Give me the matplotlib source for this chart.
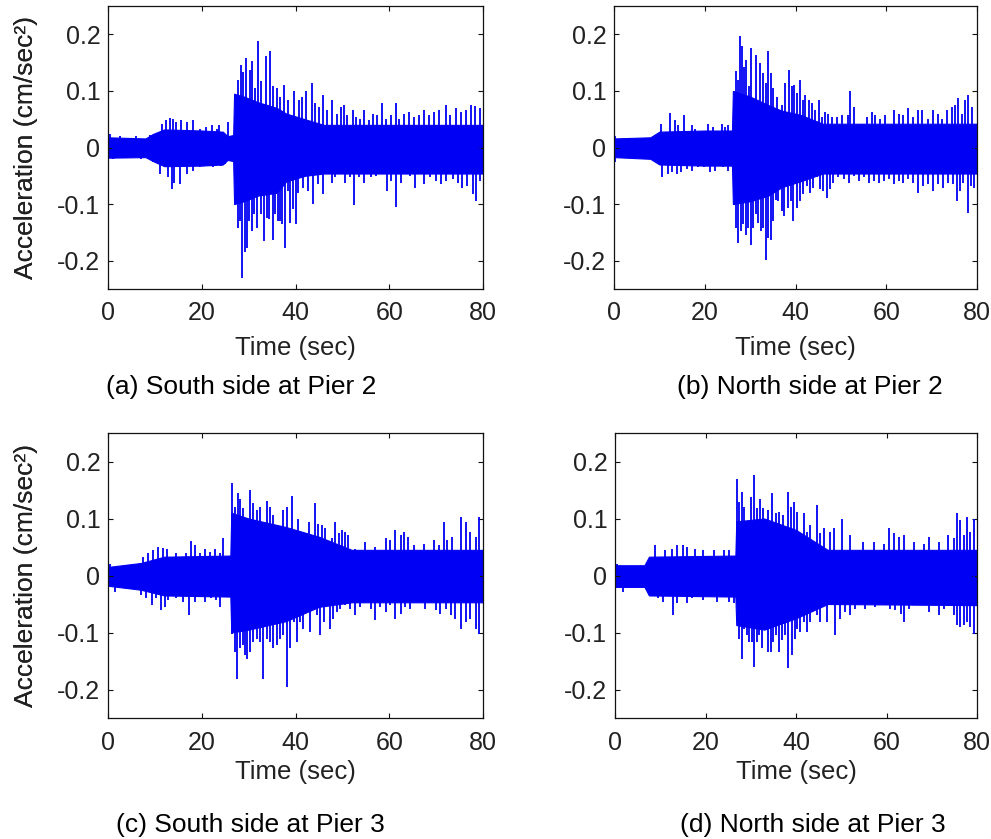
import matplotlib
matplotlib.use("Agg")
import matplotlib.pyplot as plt

plt.rcParams['font.family'] = ['Liberation Sans', 'DejaVu Sans']

# axis ticks (MATLAB style labels)
xticks = [0, 20, 40, 60, 80]
yticks = [-0.2, -0.1, 0, 0.1, 0.2]
ytick_labels = ['-0.2', '-0.1', '0', '0.1', '0.2']

captions = ['(a) South side at Pier 2', '(b) North side at Pier 2',
            '(c) South side at Pier 3', '(d) North side at Pier 3']

# ---- (a) South side at Pier 2 ----
# dense band envelope (knots)
a_core_t = [0, 8, 9.6, 12, 20, 24.5, 25.5, 26.7, 26.9, 29, 32, 36, 38, 42, 46, 80]
a_core_up = [0.018, 0.016, 0.024, 0.032, 0.03, 0.028, 0.02, 0.022, 0.095, 0.09, 0.08, 0.07, 0.06, 0.05, 0.04, 0.04]
a_core_lo = [-0.018, -0.017, -0.024, -0.033, -0.032, -0.03, -0.022, -0.024, -0.1, -0.095, -0.085, -0.08, -0.06,
             -0.05, -0.046, -0.046]
# peaks (time, accel)
a_peaks_up = [(0.5, 0.023), (2.5, 0.02), (6, 0.02), (9, 0.022), (11.5, 0.042), (12.3, 0.048), (13.3, 0.053),
              (13.8, 0.05), (14.5, 0.045), (15.5, 0.048), (16.8, 0.045), (18.1, 0.048), (19.7, 0.033),
              (21, 0.036), (22.2, 0.04), (23.2, 0.033), (23.6, 0.04), (25.6, 0.045), (27.7, 0.12),
              (28.4, 0.146), (28.9, 0.134), (29.5, 0.158), (30.2, 0.137), (30.7, 0.152), (31.3, 0.105),
              (32, 0.188), (32.7, 0.117), (33.6, 0.161), (34.6, 0.17), (35.3, 0.108), (36.1, 0.105),
              (36.6, 0.09), (37.5, 0.11), (38.3, 0.084), (39.6, 0.10), (40.7, 0.084), (41.4, 0.09),
              (42.3, 0.10), (43.5, 0.114), (44.2, 0.078), (45.1, 0.072), (45.9, 0.093), (46.7, 0.066),
              (47.8, 0.084), (48.8, 0.06), (49.6, 0.072), (50.3, 0.075), (51, 0.057), (52.3, 0.066),
              (52.9, 0.054), (53.7, 0.051), (54.7, 0.066), (55.6, 0.048), (56.5, 0.06), (57.3, 0.057),
              (58.5, 0.078), (59.4, 0.051), (60.3, 0.057), (61.4, 0.078), (62, 0.051), (63.1, 0.06),
              (64.2, 0.063), (65.2, 0.054), (66.3, 0.057), (67.4, 0.066), (68.5, 0.057), (69.6, 0.063),
              (70.7, 0.066), (72, 0.075), (73, 0.057), (74.2, 0.069), (75.3, 0.063), (76.4, 0.066),
              (77.4, 0.075), (78.3, 0.073), (79.3, 0.069)]
a_peaks_lo = [(1, -0.02), (4, -0.018), (7, -0.02), (9.5, -0.025), (11, -0.047), (12.9, -0.053), (13.6, -0.074),
              (14, -0.062), (15.4, -0.064), (16.8, -0.047), (18.2, -0.041), (19.6, -0.035), (21.8, -0.032),
              (22.5, -0.035), (24, -0.032), (25, -0.03), (27.2, -0.095), (27.7, -0.142), (28.2, -0.13),
              (28.6, -0.23), (29.2, -0.184), (29.7, -0.178), (30, -0.13), (30.7, -0.148), (31.2, -0.118),
              (31.8, -0.142), (32.6, -0.118), (33.2, -0.166), (33.9, -0.124), (34.4, -0.127), (35.2, -0.163),
              (35.7, -0.118), (36.2, -0.13), (36.6, -0.13), (37.1, -0.136), (37.8, -0.178), (38.3, -0.077),
              (38.9, -0.133), (39.5, -0.109), (40, -0.136), (40.6, -0.08), (41.5, -0.071), (42.6, -0.077),
              (43.7, -0.1), (44.8, -0.065), (45.9, -0.083), (46.6, -0.047), (47.7, -0.062), (48.4, -0.053),
              (49.1, -0.041), (49.8, -0.047), (50.6, -0.062), (51.6, -0.053), (52.5, -0.102), (53.6, -0.053),
              (54.7, -0.062), (55.4, -0.047), (56.1, -0.053), (57.1, -0.05), (58.1, -0.044), (59.6, -0.077),
              (60.4, -0.059), (61.4, -0.105), (62.4, -0.062), (63.4, -0.047), (64.5, -0.05), (65.5, -0.071),
              (66.5, -0.047), (67.5, -0.065), (68.6, -0.053), (69.9, -0.059), (71, -0.065), (72.2, -0.059),
              (73.6, -0.056), (74.6, -0.062), (75.6, -0.071), (76.6, -0.068), (77.9, -0.083), (78.4, -0.095),
              (79.3, -0.06)]

# ---- (b) North side at Pier 2 ----
b_core_t = [0, 8, 10, 20, 26, 26.2, 30, 34, 37, 41, 46, 80]
b_core_up = [0.016, 0.018, 0.028, 0.03, 0.03, 0.1, 0.09, 0.075, 0.065, 0.058, 0.042, 0.042]
b_core_lo = [-0.017, -0.02, -0.03, -0.032, -0.032, -0.1, -0.095, -0.085, -0.07, -0.06, -0.046, -0.046]
b_peaks_up = [(0.3, 0.02), (10.3, 0.042), (12.3, 0.061), (13.4, 0.048), (14.0, 0.039), (15.5, 0.057),
              (17.1, 0.039), (17.9, 0.033), (20.8, 0.042), (21.9, 0.036), (23.7, 0.042), (24.5, 0.036),
              (25.2, 0.039), (26.8, 0.135), (27.3, 0.12), (27.8, 0.197), (28.3, 0.179), (28.7, 0.143),
              (29.2, 0.155), (29.8, 0.108), (30.2, 0.176), (31.2, 0.164), (32.2, 0.149), (32.9, 0.132),
              (33.4, 0.114), (34.0, 0.17), (34.6, 0.132), (35.1, 0.105), (35.9, 0.09), (37.1, 0.075),
              (37.7, 0.114), (38.6, 0.137), (39.2, 0.108), (39.7, 0.111), (40.3, 0.096), (41.0, 0.12),
              (41.7, 0.084), (42.2, 0.093), (43.0, 0.084), (43.7, 0.078), (44.3, 0.066), (45.2, 0.084),
              (45.8, 0.054), (46.5, 0.063), (47.2, 0.06), (48.1, 0.054), (49.1, 0.054), (50.2, 0.057),
              (51.5, 0.057), (52.0, 0.099), (52.8, 0.072), (54.6, 0.042), (55.7, 0.054), (56.8, 0.063),
              (57.5, 0.057), (58.6, 0.051), (59.7, 0.057), (61.6, 0.066), (62.7, 0.06), (63.8, 0.057),
              (64.9, 0.069), (66.0, 0.054), (67.1, 0.066), (67.8, 0.066), (69.3, 0.051), (70.4, 0.066),
              (71.5, 0.06), (72.2, 0.051), (73.3, 0.066), (74.4, 0.072), (75.2, 0.075), (75.9, 0.087),
              (76.6, 0.06), (77.4, 0.084), (78.1, 0.093), (78.8, 0.072)]
b_peaks_lo = [(0.3, -0.026), (10.5, -0.053), (12.0, -0.047), (12.7, -0.044), (13.8, -0.047), (14.8, -0.044),
              (16.0, -0.038), (17.1, -0.041), (18.6, -0.035), (19.9, -0.035), (21.2, -0.044), (22.3, -0.041),
              (24.1, -0.035), (25.2, -0.041), (26.8, -0.142), (27.4, -0.169), (28.0, -0.148), (28.5, -0.136),
              (29.0, -0.154), (29.6, -0.142), (30.2, -0.172), (30.7, -0.142), (31.2, -0.118), (31.8, -0.133),
              (32.4, -0.148), (32.9, -0.142), (33.4, -0.199), (34.0, -0.16), (34.6, -0.163), (35.1, -0.13),
              (35.7, -0.092), (36.2, -0.095), (37.0, -0.112), (37.5, -0.121), (38.3, -0.107), (39.0, -0.095),
              (39.5, -0.13), (40.3, -0.107), (41.0, -0.095), (41.7, -0.083), (42.5, -0.068), (43.2, -0.08),
              (43.9, -0.071), (44.7, -0.053), (45.4, -0.074), (46.1, -0.077), (46.9, -0.089), (47.6, -0.074),
              (48.3, -0.062), (49.4, -0.053), (50.6, -0.056), (51.7, -0.062), (52.8, -0.05), (53.9, -0.059),
              (55.0, -0.053), (56.1, -0.062), (57.2, -0.059), (58.3, -0.062), (59.4, -0.059), (60.5, -0.056),
              (61.6, -0.065), (62.7, -0.059), (63.8, -0.062), (64.9, -0.056), (66.0, -0.062), (67.1, -0.08),
              (68.2, -0.068), (69.3, -0.065), (70.4, -0.077), (71.5, -0.065), (72.6, -0.071), (73.7, -0.062),
              (74.8, -0.065), (75.5, -0.095), (76.3, -0.077), (77.0, -0.062), (78.0, -0.115), (78.7, -0.068),
              (79.4, -0.071)]

# ---- (c) South side at Pier 3 ----
c_core_t = [0, 7, 12, 26.1, 26.3, 30, 38, 45, 52, 80]
c_core_up = [0.015, 0.022, 0.033, 0.035, 0.11, 0.1, 0.085, 0.068, 0.045, 0.045]
c_core_lo = [-0.018, -0.025, -0.035, -0.037, -0.1, -0.095, -0.08, -0.055, -0.047, -0.047]
c_peaks_up = [(0.5, 0.02), (4, 0.018), (7.5, 0.033), (8.6, 0.039), (9.6, 0.045), (10.7, 0.05), (11.8, 0.049),
              (12.5, 0.047), (14.6, 0.039), (16.7, 0.039), (17.7, 0.061), (18.5, 0.053), (19.6, 0.039),
              (20.7, 0.047), (21.7, 0.042), (22.8, 0.047), (23.9, 0.039), (24.6, 0.065), (26.5, 0.162),
              (27.1, 0.121), (27.7, 0.144), (28.2, 0.135), (28.7, 0.118), (30.3, 0.15), (31.0, 0.127),
              (31.7, 0.115), (32.4, 0.121), (33.9, 0.13), (34.6, 0.121), (35.3, 0.106), (37.4, 0.115),
              (38.1, 0.121), (39.3, 0.14), (40.6, 0.1), (42.8, 0.094), (44.2, 0.127), (44.9, 0.091),
              (45.6, 0.088), (46.3, 0.083), (47.8, 0.065), (48.5, 0.094), (49.2, 0.074), (49.9, 0.08),
              (50.6, 0.077), (51.3, 0.071), (52.7, 0.047), (54.9, 0.059), (57.0, 0.05), (59.2, 0.065),
              (60.2, 0.062), (61.3, 0.08), (62.4, 0.071), (63.1, 0.077), (64.1, 0.068), (65.2, 0.053),
              (67.4, 0.056), (69.5, 0.062), (70.6, 0.053), (71.6, 0.094), (72.3, 0.062), (73.4, 0.068),
              (75.2, 0.103), (76.3, 0.094), (77.3, 0.077), (78.4, 0.068), (79.1, 0.103)]
c_peaks_lo = [(1.4, -0.029), (7.1, -0.035), (8.2, -0.04), (9.3, -0.051), (10.3, -0.04), (11.4, -0.061),
              (12.1, -0.055), (12.8, -0.043), (14.6, -0.04), (16.0, -0.046), (17.3, -0.069), (18.5, -0.046),
              (20.7, -0.046), (21.9, -0.04), (23.0, -0.043), (23.9, -0.055), (26.5, -0.102), (27.1, -0.134),
              (27.6, -0.181), (28.2, -0.128), (28.7, -0.122), (29.2, -0.14), (29.7, -0.146), (30.3, -0.134),
              (31.0, -0.117), (31.7, -0.111), (32.4, -0.117), (33.1, -0.181), (33.9, -0.111), (34.6, -0.117),
              (35.3, -0.128), (36.0, -0.122), (36.7, -0.111), (37.4, -0.105), (38.1, -0.196), (38.8, -0.128),
              (39.6, -0.081), (40.3, -0.117), (41.0, -0.081), (41.7, -0.093), (43.1, -0.099), (44.5, -0.07),
              (45.3, -0.105), (46.0, -0.081), (47.4, -0.093), (48.1, -0.076), (48.8, -0.064), (49.5, -0.058),
              (50.6, -0.052), (51.7, -0.058), (52.7, -0.07), (53.8, -0.055), (56.0, -0.058), (57.0, -0.078),
              (58.1, -0.055), (59.2, -0.064), (60.2, -0.052), (61.3, -0.076), (62.4, -0.067), (63.4, -0.055),
              (64.5, -0.058), (66.6, -0.046), (67.7, -0.058), (69.9, -0.061), (70.9, -0.067), (72.0, -0.058),
              (73.1, -0.07), (74.1, -0.076), (75.2, -0.093), (76.3, -0.081), (77.3, -0.076), (78.4, -0.093),
              (79.1, -0.102)]

# ---- (d) North side at Pier 3 ----
d_core_t = [0, 6.5, 7.5, 26.6, 26.8, 33, 40, 47, 80]
d_core_up = [0.018, 0.018, 0.033, 0.035, 0.095, 0.1, 0.08, 0.045, 0.045]
d_core_lo = [-0.02, -0.02, -0.035, -0.037, -0.087, -0.095, -0.075, -0.05, -0.052]
d_peaks_up = [(0.4, 0.021), (8.8, 0.053), (11.1, 0.045), (12.5, 0.047), (13.6, 0.053), (15.1, 0.053),
              (15.9, 0.05), (17.7, 0.047), (19.5, 0.045), (21.8, 0.045), (24.0, 0.045), (25.1, 0.045),
              (26.9, 0.169), (27.4, 0.129), (28.0, 0.147), (28.6, 0.121), (30.1, 0.138), (30.8, 0.176),
              (31.3, 0.118), (32.1, 0.135), (32.7, 0.118), (33.9, 0.115), (34.7, 0.144), (35.5, 0.109),
              (36.3, 0.112), (37.2, 0.106), (38.2, 0.146), (38.9, 0.121), (39.5, 0.129), (40.2, 0.112),
              (41.7, 0.109), (42.4, 0.077), (43.1, 0.088), (44.6, 0.124), (45.4, 0.074), (46.1, 0.083),
              (47.6, 0.077), (48.3, 0.083), (50.1, 0.1), (52.0, 0.071), (54.9, 0.059), (57.2, 0.059),
              (59.4, 0.056), (60.5, 0.083), (61.6, 0.074), (62.7, 0.068), (63.8, 0.071), (66.0, 0.059),
              (68.2, 0.056), (69.3, 0.068), (71.5, 0.059), (73.7, 0.071), (74.9, 0.065), (75.6, 0.109),
              (76.3, 0.097), (77.1, 0.071), (77.8, 0.103), (78.5, 0.077), (79.4, 0.1)]
d_peaks_lo = [(1.8, -0.029), (9.6, -0.04), (10.7, -0.046), (12.8, -0.069), (13.6, -0.049), (15.9, -0.049),
              (17.0, -0.04), (19.5, -0.043), (22.5, -0.046), (25.1, -0.046), (26.2, -0.049), (27.5, -0.111),
              (28.0, -0.146), (28.6, -0.093), (29.1, -0.105), (29.6, -0.117), (30.2, -0.117), (30.8, -0.16),
              (31.3, -0.117), (31.9, -0.105), (32.4, -0.128), (33.2, -0.093), (33.8, -0.134), (34.4, -0.134),
              (35.0, -0.117), (35.6, -0.105), (36.3, -0.134), (37.0, -0.114), (37.6, -0.105), (38.3, -0.163),
              (39.1, -0.14), (39.7, -0.111), (40.2, -0.093), (40.9, -0.099), (41.7, -0.081), (42.4, -0.099),
              (43.1, -0.081), (44.6, -0.07), (45.4, -0.081), (46.8, -0.081), (48.7, -0.105), (49.8, -0.076),
              (50.9, -0.064), (52.0, -0.07), (53.1, -0.058), (55.3, -0.058), (57.5, -0.055), (59.7, -0.046),
              (60.8, -0.058), (61.9, -0.061), (63.1, -0.067), (63.8, -0.081), (64.9, -0.058), (67.1, -0.049),
              (69.3, -0.064), (71.5, -0.07), (72.6, -0.058), (74.9, -0.07), (75.6, -0.087), (76.3, -0.09),
              (77.1, -0.087), (77.8, -0.081), (78.5, -0.09), (79.4, -0.102)]

panels = [
    (a_core_t, a_core_up, a_core_lo, a_peaks_up, a_peaks_lo),
    (b_core_t, b_core_up, b_core_lo, b_peaks_up, b_peaks_lo),
    (c_core_t, c_core_up, c_core_lo, c_peaks_up, c_peaks_lo),
    (d_core_t, d_core_up, d_core_lo, d_peaks_up, d_peaks_lo),
]

W, H = 991, 839
fig = plt.figure(figsize=(W / 100, H / 100), dpi=100)

# axes boxes in pixels: left, top, right, bottom
boxes = [(108, 6, 483, 289), (614, 6, 977, 289), (108, 433, 483, 718), (615, 433, 977, 718)]
xlabel_y = [348, 348, 772, 772]
cap_pos = [(241, 387), (810, 387), (250, 825), (813, 825)]
txt = '#222222'
sig = '#0000f5'

for i, (box, data) in enumerate(zip(boxes, panels)):
    l, t, r, b = box
    ax = fig.add_axes([l / W, 1 - b / H, (r - l) / W, (b - t) / H])
    core_t, core_up, core_lo, pk_up, pk_lo = data
    ax.fill_between(core_t, core_lo, core_up, color=sig, lw=0.8, edgecolor=sig)
    pk = pk_up + pk_lo
    ax.vlines([p[0] for p in pk], 0, [p[1] for p in pk], color=sig, lw=1.3)

    ax.set_xlim(0, 80)
    ax.set_ylim(-0.25, 0.25)
    ax.set_xticks(xticks)
    ax.set_xticklabels([str(x) for x in xticks])
    ax.set_yticks(yticks)
    ax.set_yticklabels(ytick_labels)
    ax.tick_params(direction='in', length=3.5, width=0.8, top=True, right=True,
                   labelsize=18, labelcolor=txt, color='#111111')
    ax.tick_params(axis='x', pad=9)
    ax.tick_params(axis='y', pad=5.5)
    for s in ax.spines.values():
        s.set_linewidth(0.9)
        s.set_color('#111111')
        s.set_zorder(5)

    ax.set_ylabel('Acceleration (cm/sec²)', fontsize=19, color=txt)
    ax.yaxis.set_label_coords((26 - l) / (r - l), 0.5)
    ax.yaxis.label.set_va('center')
    ax.set_xlabel('Time (sec)', fontsize=18.5, color=txt)
    ax.xaxis.set_label_coords(0.5, (b - xlabel_y[i]) / (b - t))
    ax.xaxis.label.set_va('center')

    cx, cy = cap_pos[i]
    fig.text(cx / W, 1 - cy / H, captions[i], fontsize=19, color='black',
             ha='center', va='center')

fig.savefig('out.png', dpi=100, facecolor='white')
